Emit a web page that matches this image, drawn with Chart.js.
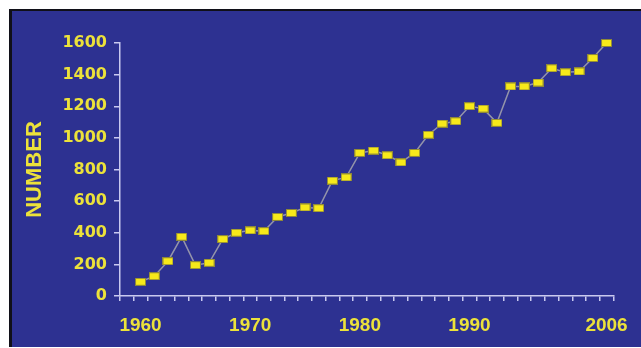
<!DOCTYPE html>
<html>
<head>
<meta charset="utf-8">
<script src="https://cdn.jsdelivr.net/npm/chart.js@4/dist/chart.umd.min.js"></script>
<style>
  html, body { margin: 0; padding: 0; background: #ffffff; width: 641px; height: 348px; overflow: hidden; }
  #panel {
    position: absolute; left: 9px; top: 9px; width: 632px; height: 338px;
    box-sizing: border-box; background: #2d3191;
    border-left: 3px solid #101018; border-top: 2px solid #101018;
  }
  #wrap { position: absolute; left: 0; top: 0; width: 641px; height: 348px; }
</style>
</head>
<body>
<div id="panel"></div>
<div id="wrap"><canvas id="chart" width="641" height="348"></canvas></div>
<script>
// Category slots along the time axis; only the decade marks carry text.
const xLabels = [
  '', '1960', '', '', '', '', '', '', '',
  '1970', '', '', '', '', '', '', '',
  '1980', '', '', '', '', '', '', '',
  '1990', '', '', '', '', '', '', '', '', '',
  '2006'
];

// Counts per observation, in order from 1960 to 2006.
const counts = [
  90, 125, 220, 375, 195, 210, 360, 400, 415, 410,
  500, 525, 560, 555, 730, 750, 905, 920, 890, 845,
  905, 1020, 1090, 1105, 1200, 1185, 1095, 1325, 1325, 1350,
  1440, 1415, 1420, 1505, 1600
];

const yTicks = [0, 200, 400, 600, 800, 1000, 1200, 1400, 1600];

const yellow = '#ece23a';
const axisColor = '#c9c9ef';

// Small yellow rectangle used as the point marker.
function makeMarker() {
  const c = document.createElement('canvas');
  c.width = 11; c.height = 8;
  const g = c.getContext('2d');
  g.fillStyle = '#8e8838';
  g.fillRect(0, 0, 11, 8);
  g.fillStyle = '#f7e91a';
  g.fillRect(1, 1, 9, 6);
  return c;
}
const marker = makeMarker();

new Chart(document.getElementById('chart'), {
  type: 'line',
  data: {
    labels: xLabels,
    datasets: [{
      data: [null, ...counts],
      borderColor: '#9494aa',
      borderWidth: 1.5,
      pointStyle: marker,
      pointRadius: 5,
      pointHoverRadius: 5,
      tension: 0,
      spanGaps: false,
      clip: false
    }]
  },
  options: {
    responsive: false,
    animation: false,
    devicePixelRatio: 1,
    layout: { padding: { left: 0, top: 43, right: 24, bottom: 0 } },
    plugins: { legend: { display: false }, tooltip: { enabled: false } },
    scales: {
      x: {
        type: 'category',
        offset: true,
        grid: { offset: true, drawOnChartArea: false, tickLength: 5, color: axisColor, lineWidth: 1.5 },
        border: { color: axisColor, width: 1.5 },
        ticks: {
          autoSkip: false, maxRotation: 0, minRotation: 0,
          color: yellow, padding: 13,
          font: { family: 'Liberation Sans', weight: 'bold', size: 19 }
        },
        afterFit(s) { s.height = 52; }
      },
      y: {
        min: 0, max: 1600,
        afterBuildTicks(s) { s.ticks = yTicks.map(v => ({ value: v })); },
        grid: { drawOnChartArea: false, tickLength: 6, color: axisColor, lineWidth: 1.5 },
        border: { color: axisColor, width: 1.5 },
        ticks: {
          color: yellow, padding: 7,
          font: { family: 'DejaVu Sans', weight: 'bold', size: 16 },
          callback: v => String(v)
        },
        title: {
          display: true, text: 'NUMBER', color: yellow,
          font: { family: 'Liberation Sans', weight: 'bold', size: 22 },
          padding: { top: 22, bottom: 0 }
        },
        afterFit(s) { s.width = 120; }
      }
    }
  }
});
</script>
</body>
</html>
